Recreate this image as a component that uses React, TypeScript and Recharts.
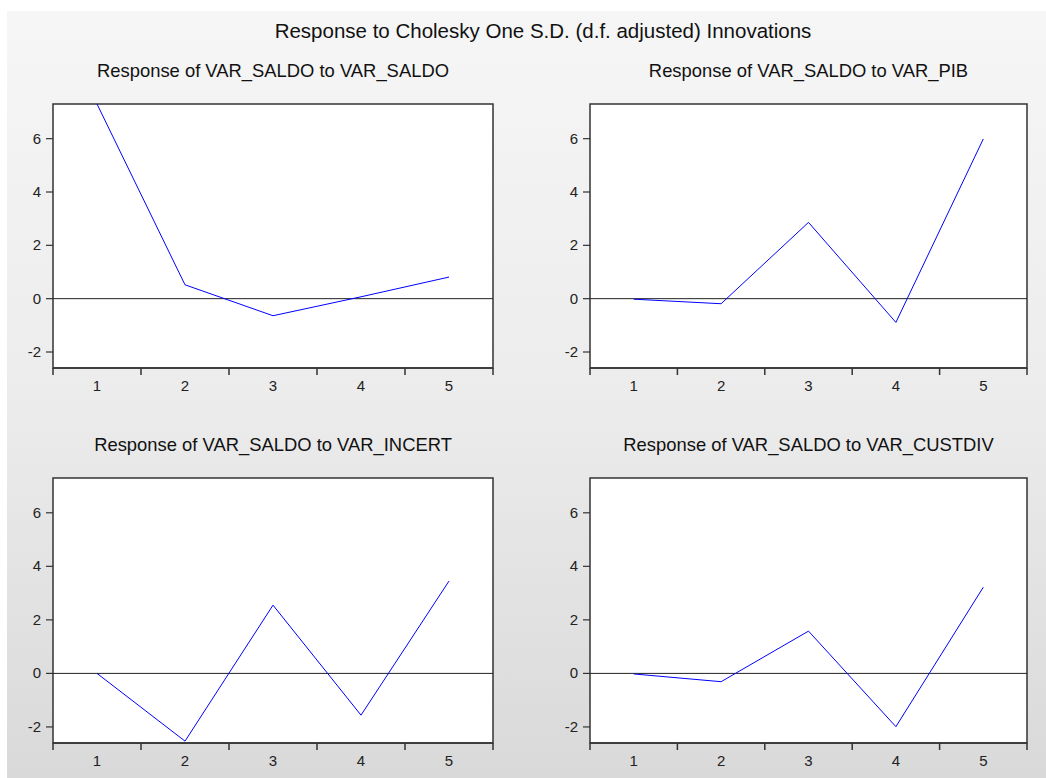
import {LineChart, Line, XAxis, YAxis, ReferenceArea, ReferenceLine} from 'recharts'

const periods: number[] = [1, 2, 3, 4, 5]
const bandEdges: number[] = [0.5, 1.5, 2.5, 3.5, 4.5, 5.5]
const yTicks: number[] = [-2, 0, 2, 4, 6]
const yDomain: number[] = [-2.6, 7.3]

const respSaldo: number[] = [7.3, 0.52, -0.64, 0.07, 0.81]
const respPib: number[] = [-0.02, -0.19, 2.86, -0.89, 5.99]
const respIncert: number[] = [0.0, -2.53, 2.55, -1.56, 3.45]
const respCustdiv: number[] = [-0.02, -0.31, 1.58, -1.99, 3.22]

const mainTitle = 'Response to Cholesky One S.D. (d.f. adjusted) Innovations'
const panelTitles: string[] = [
    'Response of VAR_SALDO to VAR_SALDO',
    'Response of VAR_SALDO to VAR_PIB',
    'Response of VAR_SALDO to VAR_INCERT',
    'Response of VAR_SALDO to VAR_CUSTDIV',
]

const FONT = '"Liberation Sans", Arial, sans-serif'

const XTick = (p: any) => (
    <text x={p.x} y={p.y} dy={13} textAnchor='middle' fontSize={15} fontFamily={FONT} fill='#222'>
        {p.payload.value}
    </text>
)

const YTick = (p: any) => (
    <text x={p.x} y={p.y} dy={5} textAnchor='end' fontSize={15} fontFamily={FONT} fill='#222'>
        {p.payload.value}
    </text>
)

type PanelProps = {
    title: string
    values: number[]
    plotLeft: number
    plotTop: number
    plotW: number
    plotH: number
}

const Panel = (props: PanelProps) => {
    const data = periods.map((p, i) => ({period: p, value: props.values[i]}))
    const yAxisW = 53
    const chartTop = props.plotTop - 8
    const chartLeft = props.plotLeft - yAxisW
    const width = yAxisW + props.plotW + 8
    const height = 8 + props.plotH + 34
    return (
        <div>
            <div style={{position: 'absolute', left: props.plotLeft - 50, width: props.plotW + 100, top: props.plotTop - 44,
                lineHeight: '22px', textAlign: 'center', fontSize: 18.4, fontFamily: FONT, color: '#111', whiteSpace: 'nowrap'}}>
                {props.title}
            </div>
            <div style={{position: 'absolute', left: chartLeft, top: chartTop}}>
                <LineChart width={width} height={height} data={data}
                    margin={{top: 8, right: 8, left: 0, bottom: 2}}>
                    <XAxis xAxisId='a_marks' dataKey='period' type='number' domain={[0.5, 5.5]} ticks={bandEdges}
                        tickFormatter={() => ''} height={8} tickSize={7} axisLine={{stroke: '#333', strokeWidth: 1.5}}
                        tickLine={{stroke: '#333', strokeWidth: 1.5}} allowDataOverflow />
                    <XAxis xAxisId='b_labels' dataKey='period' type='number' domain={[0.5, 5.5]} ticks={periods}
                        height={24} tickSize={0} tickMargin={2} axisLine={false} tickLine={false} tick={<XTick />} />
                    <YAxis domain={yDomain} ticks={yTicks} width={yAxisW} tickSize={7} tickMargin={5}
                        axisLine={false} tickLine={{stroke: '#333', strokeWidth: 1.2}} tick={<YTick />}
                        allowDataOverflow type='number' />
                    <ReferenceArea xAxisId='a_marks' x1={0.5} x2={5.5} y1={yDomain[0]} y2={yDomain[1]}
                        fill='#ffffff' fillOpacity={1} stroke='#333' strokeWidth={1.5} />
                    <ReferenceLine xAxisId='a_marks' y={0} stroke='#222' strokeWidth={1} />
                    <Line xAxisId='a_marks' dataKey='value' stroke='#0000ff' strokeWidth={1} dot={false}
                        type='linear' isAnimationActive={false} />
                </LineChart>
            </div>
        </div>
    )
}

const App = () => {
    return (
        <div style={{position: 'absolute', left: 0, top: 0, width: 1046, height: 778, background: '#ffffff', overflow: 'hidden'}}>
            <div style={{position: 'absolute', left: 7, top: 11, width: 1039, height: 767,
                background: 'linear-gradient(#f6f6f6 0%, #ececec 50%, #d9d9d9 100%)'}} />
            <div style={{position: 'absolute', left: 0, width: 1086, top: 19, lineHeight: '24px', textAlign: 'center',
                fontSize: 20.5, fontFamily: FONT, color: '#111', whiteSpace: 'nowrap'}}>
                {mainTitle}
            </div>
            <Panel title={panelTitles[0]} values={respSaldo} plotLeft={53} plotTop={104} plotW={440} plotH={264} />
            <Panel title={panelTitles[1]} values={respPib} plotLeft={590} plotTop={104} plotW={437} plotH={264} />
            <Panel title={panelTitles[2]} values={respIncert} plotLeft={53} plotTop={478} plotW={440} plotH={265} />
            <Panel title={panelTitles[3]} values={respCustdiv} plotLeft={590} plotTop={478} plotW={437} plotH={265} />
        </div>
    )
}

export default App
